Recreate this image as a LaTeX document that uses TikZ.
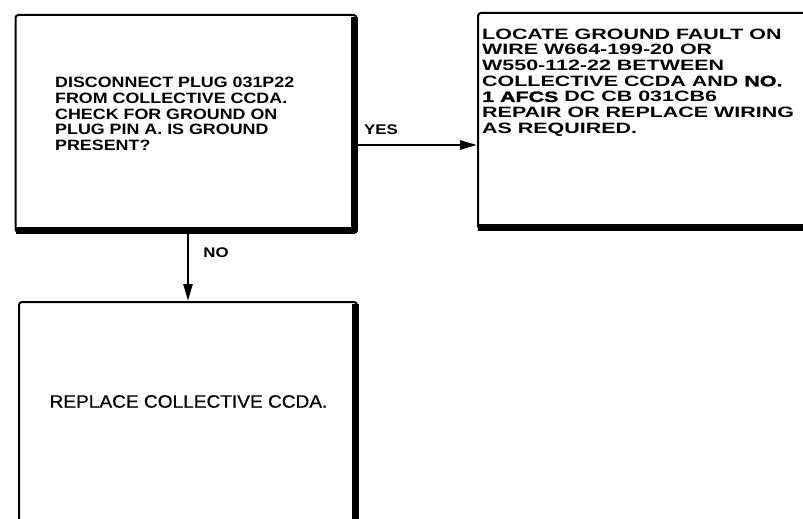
\documentclass[tikz,border=0pt]{standalone}
\usepackage{fontspec}
\setmainfont{Liberation Sans}
\newfontfamily\fa{Liberation Sans}[FakeStretch=1.19]
\newfontfamily\fb{Liberation Sans}[FakeStretch=1.43]
\newfontfamily\fh{Liberation Sans}[FakeStretch=1.43, BoldFeatures={FakeBold=1.6}]
\newfontfamily\fc{Liberation Sans}[FakeStretch=1.06, FakeBold=0.6]
\newfontfamily\fl{Liberation Sans}[FakeStretch=1.2]
\usetikzlibrary{arrows.meta}
\tikzset{
  box/.style={draw, line width=2pt, rounded corners=3pt, inner sep=0pt},
  shadowline/.style={line width=7pt, line join=round},
  arr/.style={line width=2.5pt, -{Triangle[length=17pt,width=9pt]}},
  lbl/.style={font=\fl\bfseries\fontsize{14}{16}\selectfont, inner sep=0pt},
  txta/.style={font=\fa\bfseries\fontsize{15}{15.7}\selectfont, align=left, inner sep=0pt, anchor=north west},
  txtb/.style={font=\fb\bfseries\fontsize{15}{15.7}\selectfont, align=left, inner sep=0pt, anchor=north west},
  txtc/.style={font=\fc\fontsize{18}{20}\selectfont, inner sep=0pt},
}
\begin{document}
\begin{tikzpicture}[x=1pt,y=-1pt]
\clip (0,0) rectangle (803,519);
\fill[white] (0,0) rectangle (803,519);
% boxes
\node[box, minimum width=341pt, minimum height=217pt] (b1) at (186,123.5) {};
\node[box, minimum width=337pt, minimum height=216pt] (b2) at (646.5,121) {};
\node[box, minimum width=338pt, minimum height=228pt] (b3) at (188,416) {};
% thick shadow edges
\draw[shadowline] ([xshift=-3pt,yshift=-3pt]b1.north east) -- ([xshift=-3pt,yshift=3pt]b1.south east) -- ([xshift=1pt,yshift=3pt]b1.south west);
\draw[shadowline] ([xshift=-3pt,yshift=3pt]b2.south east) -- ([xshift=1pt,yshift=3pt]b2.south west);
\draw[shadowline] ([xshift=-3pt,yshift=-3pt]b3.north east) -- ([xshift=-3pt,yshift=3pt]b3.south east);
% texts
\node[txta] (t1) at (55,77) {DISCONNECT PLUG 031P22\\FROM COLLECTIVE CCDA.\\CHECK FOR GROUND ON\\PLUG PIN A. IS GROUND\\PRESENT?};
\node[txtb] (t2) at (482,28.5) {LOCATE GROUND FAULT ON\\WIRE W664-199-20 OR\\W550-112-22 BETWEEN\\COLLECTIVE CCDA AND {\fh\bfseries NO.}\\{\fh\bfseries 1 AFCS} DC CB 031CB6\\REPAIR OR REPLACE WIRING\\AS REQUIRED.};
\node[txtc] (t3) at (188.5,401.5) {REPLACE COLLECTIVE CCDA.};
% connectors
\coordinate (yy) at (0,145);
\draw[arr] (b1.east |- yy) -- (b2.west |- yy);
\draw[arr] (b1.south -| b3.north) -- (b3.north);
% labels
\node[lbl] (yes) at (381,130) {YES};
\node[lbl] (no) at (216,253) {NO};
\end{tikzpicture}
\end{document}
